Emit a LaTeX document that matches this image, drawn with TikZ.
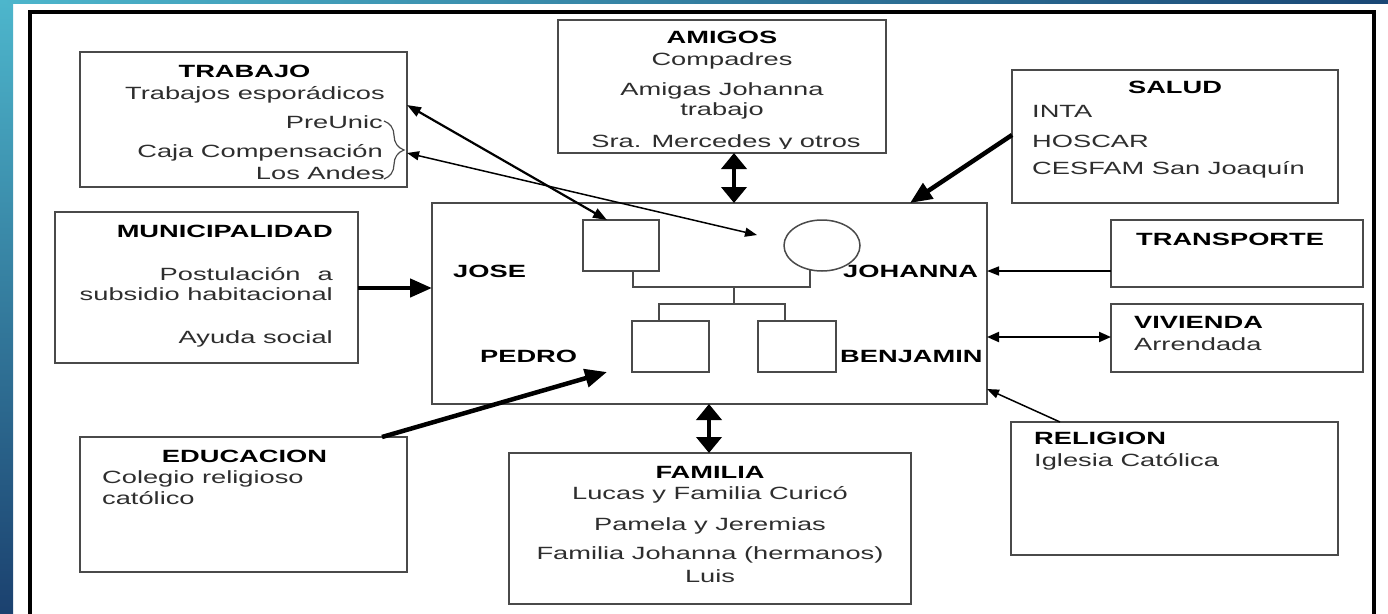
\documentclass[tikz,border=0pt]{standalone}
\usepackage{fontspec}
\setmainfont{Liberation Sans}[FakeStretch=1.54]
\usetikzlibrary{arrows.meta,fit,decorations.pathreplacing,shapes.geometric}
\definecolor{boxline}{HTML}{4A4A4A}
\definecolor{txt}{HTML}{2E2E2E}
\definecolor{stripeA}{HTML}{4DB6CC}
\definecolor{stripeB}{HTML}{1B416F}
\definecolor{stripeC}{HTML}{1A4775}
\begin{document}
\begin{tikzpicture}[x=1pt,y=-1pt,
  box/.style={draw=boxline, line width=1.5pt, inner sep=0pt, outer sep=0pt, rectangle},
  gen/.style={draw=boxline, line width=1.5pt},
  ttl/.style={font=\bfseries\fontsize{17.7}{20}\selectfont, text=black, inner sep=0pt},
  bod/.style={font=\fontsize{17.7}{20}\selectfont, text=txt, inner sep=0pt},
  bigarr/.style={line width=4.5pt, -{Triangle[length=22pt,width=18pt]}},
  bigdbl/.style={line width=4.5pt, {Triangle[length=16pt,width=25pt]}-{Triangle[length=16pt,width=25pt]}},
  thinarr/.style={line width=1.5pt, -{Triangle[length=12pt,width=9pt]}},
  thindbl/.style={line width=1.5pt, {Triangle[length=12pt,width=9pt]}-{Triangle[length=12pt,width=9pt]}},
  meddbl/.style={line width=2.2pt, {Triangle[length=14pt,width=10pt]}-{Triangle[length=14pt,width=10pt]}}
]
\useasboundingbox (0,0) rectangle (1388,613);
\clip (0,0) rectangle (1388,613);
\fill[white] (0,0) rectangle (1388,613);
% stripes
\fill[top color=stripeA, bottom color=stripeB] (0,0) rectangle (13,613);
\fill[left color=stripeA, right color=stripeC] (0,0) rectangle (1388,3.3);
% outer frame
\draw[line width=4pt, black] (29.5,700) -- (29.5,11.5) -- (1374,11.5) -- (1374,700);

% boxes
\node[box, fit={(80,52) (407,187)}] (trabajo) {};
\node[box, fit={(558,20) (886,153)}] (amigos) {};
\node[box, fit={(1012,70) (1338,203)}] (salud) {};
\node[box, fit={(55,212) (358,363)}] (muni) {};
\node[box, fit={(432,203) (987,404)}] (centro) {};
\node[box, fit={(1111,220) (1363,287)}] (transp) {};
\node[box, fit={(1111,304) (1363,372)}] (vivienda) {};
\node[box, fit={(80,437) (407,572)}] (educ) {};
\node[box, fit={(509,453) (911,604)}] (familia) {};
\node[box, fit={(1011,422) (1338,555)}] (religion) {};

% genogram
\node[box, fit={(583,220) (659,271)}] (jose) {};
\node[draw=boxline, line width=1.5pt, ellipse, minimum width=76pt, minimum height=51pt, inner sep=0pt] (johanna) at (822,245.5) {};
\node[box, fit={(632,321) (709,372)}] (pedro) {};
\node[box, fit={(758,321) (836,372)}] (benjamin) {};
\coordinate (union) at (734,287);
\coordinate (sib) at (734,304);
\draw[gen] (jose.south -| 633,0) -- (633,287) -- (810,287) -- (810,269.7);
\draw[gen] (union) -- (sib);
\draw[gen] (pedro.north -| 659,0) |- (sib) -| (benjamin.north -| 785,0);

% texts
\node[ttl, anchor=base] (trabajoT) at (244.5,77.5) {TRABAJO};
\node[bod, anchor=base east] (trabajo1) at (385,99) {Trabajos esporádicos};
\node[bod, anchor=base east] (trabajo2) at (383,128) {PreUnic};
\node[bod, anchor=base east] (trabajo3) at (383,157) {Caja Compensación};
\node[bod, anchor=base east] (trabajo4) at (385,179) {Los Andes};
\coordinate (braceA) at (384,121);
\coordinate (braceB) at (384,179);
\draw[boxline, line width=1.2pt, decorate, decoration={brace, amplitude=20pt, aspect=0.5}] (braceA) -- (braceB);

\node[ttl, anchor=base] (amigosT) at (722,43) {AMIGOS};
\node[bod, anchor=base] (amigos1) at (722,65) {Compadres};
\node[bod, anchor=base] (amigos2) at (722,95) {Amigas Johanna};
\node[bod, anchor=base] (amigos3) at (722,115) {trabajo};
\begin{scope}
\clip (560,130) rectangle (884,148.5);
\node[bod, anchor=base] (amigos4) at (726,147) {Sra. Mercedes y otros};
\end{scope}

\node[ttl, anchor=base] (saludT) at (1175,93) {SALUD};
\node[bod, anchor=base west] (salud1) at (1032,117) {INTA};
\node[bod, anchor=base west] (salud2) at (1032,147) {HOSCAR};
\node[bod, anchor=base west] (salud3) at (1032,174) {CESFAM San Joaquín};

\node[ttl, anchor=base east] (muniT) at (333,237) {MUNICIPALIDAD};
\node[bod, anchor=base east] (muni1) at (333,280) {Postulación\hspace{17pt}a};
\node[bod, anchor=base east] (muni2) at (333,300) {subsidio habitacional};
\node[bod, anchor=base east] (muni3) at (333,343) {Ayuda social};

\node[ttl, anchor=base west] (joseL) at (453,277) {JOSE};
\node[ttl, anchor=base west] (johannaL) at (843,277) {JOHANNA};
\node[ttl, anchor=base west] (pedroL) at (480,362) {PEDRO};
\node[ttl, anchor=base west] (benjaminL) at (840,362) {BENJAMIN};

\node[ttl, anchor=base] (educT) at (244.5,462) {EDUCACION};
\node[bod, anchor=base west] (educ1) at (102,483) {Colegio religioso};
\node[bod, anchor=base west] (educ2) at (102,504) {católico};

\node[ttl, anchor=base] (familiaT) at (710,478) {FAMILIA};
\node[bod, anchor=base] (familia1) at (710,499) {Lucas y Familia Curicó};
\node[bod, anchor=base] (familia2) at (710,530) {Pamela y Jeremias};
\node[bod, anchor=base] (familia3) at (710,559) {Familia Johanna (hermanos)};
\node[bod, anchor=base] (familia4) at (710,582) {Luis};

\node[ttl, anchor=base west] (transpT) at (1136,245) {TRANSPORTE};
\node[ttl, anchor=base west] (viviendaT) at (1134,328) {VIVIENDA};
\node[bod, anchor=base west] (vivienda1) at (1134,350) {Arrendada};
\node[ttl, anchor=base west] (religionT) at (1034,444) {RELIGION};
\node[bod, anchor=base west] (religion1) at (1034,466) {Iglesia Católica};

% connectors
\coordinate (johannaTarget) at (757,235);
\coordinate (pedroTarget) at (607,372);
\draw[meddbl] (trabajo.east |- 0,105) -- (jose.north -| 607,0);
\draw[thindbl] (trabajo.east |- 0,153) -- (johannaTarget);
\draw[bigdbl] (amigos.south -| 734,0) -- (centro.north -| 734,0);
\draw[bigarr] (salud.west |- 0,135) -- (centro.north -| 910,0);
\draw[bigarr] (muni.east |- 0,288) -- (centro.west |- 0,288);
\draw[bigarr] (educ.north -| 382,0) -- (pedroTarget);
\draw[bigdbl] (centro.south -| 709,0) -- (familia.north -| 709,0);
\draw[thinarr] (transp.west |- 0,271) -- (centro.east |- 0,271);
\draw[line width=2pt, {Triangle[length=12pt,width=10pt]}-{Triangle[length=12pt,width=10pt]}] (centro.east |- 0,337) -- (vivienda.west |- 0,337);
\draw[thinarr] (religion.north -| 1060,0) -- (centro.east |- 0,389);
\end{tikzpicture}
\end{document}
